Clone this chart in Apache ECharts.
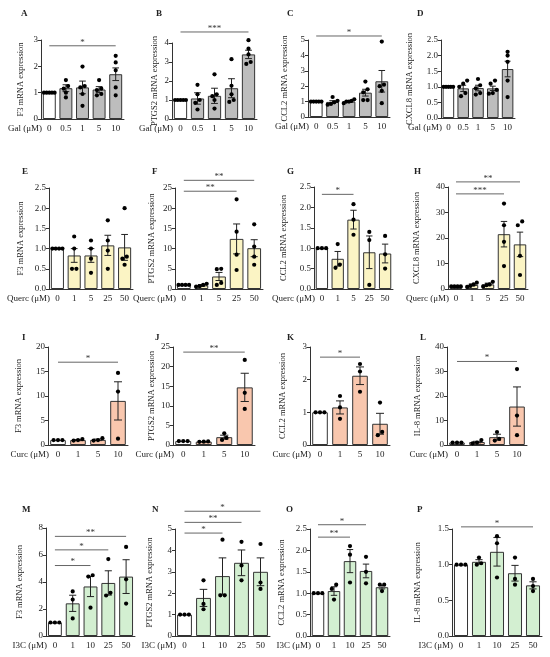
<!DOCTYPE html>
<html lang="en">
<head>
<meta charset="UTF-8">
<title>mRNA expression panels</title>
<style>
    html, body { margin: 0; padding: 0; background: #fff; }
    #main { width: 550px; height: 657px; }
</style>
</head>
<body>
<div id="main"></div>
<script src="https://cdn.jsdelivr.net/npm/echarts@6/dist/echarts.min.js"></script>
<script>
// doses (x categories)
var doseGal = ['0', '0.5', '1', '5', '10'];
var doseQuerc = ['0', '1', '5', '25', '50'];
var doseCurc = ['0', '1', '5', '10'];
var doseI3C = ['0', '1', '10', '25', '50'];

// y axis ranges [min, max, interval]
var yA = [0, 3, 1], yB = [0, 4, 1], yC = [0, 5, 1], yD = [0, 2.5, 0.5];
var yE = [0, 2.5, 0.5], yF = [0, 25, 5], yG = [0, 2.5, 0.5], yH = [0, 40, 10];
var yI = [0, 20, 5], yJ = [0, 25, 5], yK = [0, 3, 1], yL = [0, 40, 10];
var yM = [0, 8, 2], yN = [0, 5, 1], yO = [0, 2.5, 0.5], yP = [0, 1.5, 0.5];

var yTitles = ['F3', 'PTGS2', 'CCL2', 'CXCL8', 'F3', 'PTGS2', 'CCL2', 'CXCL8',
    'F3', 'PTGS2', 'CCL2', 'IL-8', 'F3', 'PTGS2', 'CCL2', 'IL-8'];

// means, SEM, replicate points, significance [from, to, y, label]
var meanA = [1.0, 1.17, 1.2, 1.12, 1.7];
var semA = [0, 0.13, 0.24, 0.11, 0.24];
var ptsA = [[1, 1, 1, 1, 1], [1.48, 1.25, 1.15, 1.0, 0.82], [1.99, 1.25, 1.2, 0.95, 0.5], [1.48, 1.15, 1.1, 0.95, 0.9], [2.4, 2.15, 1.85, 1.2, 0.9]];
var sigA = [[0, 4, 2.78, '*']];

var meanB = [1.0, 1.08, 1.22, 1.62, 3.4];
var semB = [0, 0.3, 0.4, 0.5, 0.22];
var ptsB = [[1, 1, 1, 1, 1], [1.8, 1.3, 1.0, 0.85, 0.5], [2.35, 1.3, 1.2, 1.0, 0.55], [3.15, 1.75, 1.3, 1.0, 0.9], [4.15, 3.7, 3.4, 3.0, 2.9]];
var sigB = [[0, 4, 4.58, '***']];

var meanC = [1.0, 0.98, 1.0, 1.58, 2.32];
var semC = [0, 0.08, 0.05, 0.22, 0.7];
var ptsC = [[1, 1, 1, 1, 1], [1.3, 1.05, 0.95, 0.85, 0.8], [1.15, 1.05, 1.0, 1.0, 0.9], [2.3, 1.8, 1.6, 1.1, 1.1], [4.9, 2.1, 2.0, 1.7, 0.9]];
var sigC = [[0, 4, 5.26, '*']];

var meanD = [1.0, 0.95, 0.96, 0.95, 1.57];
var semD = [0, 0.1, 0.09, 0.07, 0.25];
var ptsD = [[1, 1, 1, 1, 1], [1.2, 1.1, 1.0, 0.8, 0.7], [1.25, 1.05, 0.95, 0.8, 0.75], [1.2, 1.1, 0.9, 0.8, 0.78], [2.12, 2.0, 1.8, 1.2, 0.67]];
var sigD = [];

var meanE = [1.0, 0.83, 0.83, 1.08, 1.03];
var semE = [0, 0.17, 0.17, 0.25, 0.32];
var ptsE = [[1, 1, 1, 1], [1.3, 1.0, 0.5, 0.5], [1.2, 1.0, 0.75, 0.4], [1.7, 1.2, 0.95, 0.5], [2.0, 0.8, 0.75, 0.6]];
var sigE = [];

var meanF = [1.0, 0.9, 3.1, 12.4, 10.1];
var semF = [0, 0.2, 1.0, 3.7, 2.1];
var ptsF = [[1, 1, 1, 1], [1.3, 1.0, 0.7, 0.6], [5.0, 4.9, 1.5, 1.0], [22.2, 14.2, 8.5, 4.7], [16.0, 10.5, 8.0, 6.0]];
var sigF = [[0, 3, 24.2, '**'], [0, 4, 26.9, '**']];

var meanG = [1.0, 0.74, 1.7, 0.9, 0.87];
var semG = [0, 0.18, 0.23, 0.4, 0.23];
var ptsG = [[1, 1, 1], [1.1, 0.6, 0.52], [2.08, 1.7, 1.33], [1.4, 1.2, 0.1], [1.3, 0.85, 0.5]];
var sigG = [[0, 2, 2.32, '*']];

var meanH = [1.0, 1.6, 1.8, 21.5, 17.5];
var semH = [0, 0.4, 0.5, 5.0, 4.8];
var ptsH = [[1, 1, 1, 1], [2.5, 1.8, 1.2, 0.8], [2.8, 1.8, 1.5, 1.0], [33.5, 25.0, 18.5, 9.0], [26.5, 25.0, 13.0, 5.5]];
var sigH = [[0, 3, 37.3, '***'], [0, 4, 42, '**']];

var meanI = [1.0, 1.0, 1.05, 9.0];
var semI = [0, 0.1, 0.15, 3.9];
var ptsI = [[1, 1, 1], [1.2, 1.0, 0.9], [1.4, 1.0, 0.9], [14.7, 10.9, 1.3]];
var sigI = [[0, 3, 16.9, '*']];

var meanJ = [1.0, 0.85, 2.0, 14.7];
var semJ = [0, 0.05, 0.5, 3.6];
var ptsJ = [[1, 1, 1], [0.9, 0.85, 0.8], [3.0, 1.8, 1.3], [21.7, 13.3, 9.2]];
var sigJ = [[0, 3, 23.7, '**']];

var meanK = [1.0, 1.15, 2.12, 0.65];
var semK = [0, 0.2, 0.27, 0.32];
var ptsK = [[1, 1, 1], [1.5, 1.15, 0.8], [2.48, 2.25, 1.63], [1.3, 0.4, 0.3]];
var sigK = [[0, 2, 2.69, '*']];

var meanL = [1.0, 1.2, 3.2, 15.7];
var semL = [0, 0.3, 1.2, 8.0];
var ptsL = [[1, 1, 1], [2.0, 1.0, 0.7], [5.3, 2.5, 1.8], [31.0, 12.0, 4.0]];
var sigL = [[0, 3, 34.1, '*']];

var meanM = [1.0, 2.42, 3.67, 3.93, 4.4];
var semM = [0, 0.6, 0.75, 0.9, 1.25];
var ptsM = [[1, 1, 1], [3.3, 2.7, 1.3], [4.5, 4.4, 2.1], [5.7, 3.2, 3.0], [6.6, 4.2, 2.4]];
var sigM = [[0, 2, 5.22, '*'], [0, 3, 6.38, '*'], [0, 4, 7.38, '**']];

var meanN = [1.0, 1.78, 2.8, 3.42, 3.0];
var semN = [0, 0.4, 0.85, 0.6, 0.65];
var ptsN = [[1, 1, 1], [2.6, 1.5, 1.25], [4.5, 1.9, 1.9], [4.4, 3.3, 2.6], [4.3, 2.5, 2.2]];
var sigN = [[0, 2, 4.81, '*'], [0, 3, 5.31, '**'], [0, 4, 5.83, '*']];

var meanO = [1.0, 1.05, 1.75, 1.52, 1.14];
var semO = [0, 0.1, 0.27, 0.16, 0.04];
var ptsO = [[1, 1, 1], [1.2, 1.1, 0.85], [2.1, 1.9, 1.25], [1.85, 1.5, 1.23], [1.2, 1.2, 1.05]];
var sigO = [[0, 2, 2.31, '**'], [0, 3, 2.6, '*']];

var meanP = [1.0, 1.04, 1.18, 0.88, 0.71];
var semP = [0, 0.03, 0.2, 0.11, 0.05];
var ptsP = [[1, 1, 1], [1.1, 1.02, 1.0], [1.4, 1.3, 0.82], [1.1, 0.8, 0.72], [0.8, 0.7, 0.63]];
var sigP = [[0, 4, 1.53, '*']];

var FONT = "'Liberation Serif', 'DejaVu Serif', serif";
var INK = '#222';
var GRAY = '#bdbdbd', YELLOW = '#fbf4c4', ORANGE = '#f9c7ae', GREEN = '#d3efd1';

// panel layout: box = [left, top, width, height], letter = [x, y], gap = y name gap
var panels = [
    {id: 'A', dose: doseGal, drug: 'Gal', mean: meanA, sem: semA, pts: ptsA, sig: sigA, y: yA, fill: GRAY, box: [41, 40, 83, 79], letter: [16, 4], gap: 16},
    {id: 'B', dose: doseGal, drug: 'Gal', mean: meanB, sem: semB, pts: ptsB, sig: sigB, y: yB, fill: GRAY, box: [172, 43, 85, 76], letter: [151, 4], gap: 13},
    {id: 'C', dose: doseGal, drug: 'Gal', mean: meanC, sem: semC, pts: ptsC, sig: sigC, y: yC, fill: GRAY, box: [308, 40, 82, 77], letter: [282, 4], gap: 19},
    {id: 'D', dose: doseGal, drug: 'Gal', mean: meanD, sem: semD, pts: ptsD, sig: sigD, y: yD, fill: GRAY, box: [441, 40, 74, 78], letter: [412, 4], gap: 27},
    {id: 'E', dose: doseQuerc, drug: 'Querc', mean: meanE, sem: semE, pts: ptsE, sig: sigE, y: yE, fill: YELLOW, box: [49, 188, 84, 101], letter: [17, 162], gap: 24},
    {id: 'F', dose: doseQuerc, drug: 'Querc', mean: meanF, sem: semF, pts: ptsF, sig: sigF, y: yF, fill: YELLOW, box: [175, 188, 88, 101], letter: [147, 162], gap: 19},
    {id: 'G', dose: doseQuerc, drug: 'Querc', mean: meanG, sem: semG, pts: ptsG, sig: sigG, y: yG, fill: YELLOW, box: [314, 187, 79, 102], letter: [282, 162], gap: 26},
    {id: 'H', dose: doseQuerc, drug: 'Querc', mean: meanH, sem: semH, pts: ptsH, sig: sigH, y: yH, fill: YELLOW, box: [448, 187, 80, 102], letter: [409, 162], gap: 27},
    {id: 'I', dose: doseCurc, drug: 'Curc', mean: meanI, sem: semI, pts: ptsI, sig: sigI, y: yI, fill: ORANGE, box: [48, 347, 80, 98], letter: [17, 328], gap: 25},
    {id: 'J', dose: doseCurc, drug: 'Curc', mean: meanJ, sem: semJ, pts: ptsJ, sig: sigJ, y: yJ, fill: ORANGE, box: [173, 347, 82, 98], letter: [150, 328], gap: 17},
    {id: 'K', dose: doseCurc, drug: 'Curc', mean: meanK, sem: semK, pts: ptsK, sig: sigK, y: yK, fill: ORANGE, box: [310, 347, 80, 98], letter: [282, 328], gap: 23},
    {id: 'L', dose: doseCurc, drug: 'Curc', mean: meanL, sem: semL, pts: ptsL, sig: sigL, y: yL, fill: ORANGE, box: [447, 347, 80, 98], letter: [415, 328], gap: 25},
    {id: 'M', dose: doseI3C, drug: 'I3C', mean: meanM, sem: semM, pts: ptsM, sig: sigM, y: yM, fill: GREEN, box: [46, 528, 89, 108], letter: [17, 500], gap: 22},
    {id: 'N', dose: doseI3C, drug: 'I3C', mean: meanN, sem: semN, pts: ptsN, sig: sigN, y: yN, fill: GREEN, box: [175, 529, 95, 107], letter: [147, 500], gap: 21},
    {id: 'O', dose: doseI3C, drug: 'I3C', mean: meanO, sem: semO, pts: ptsO, sig: sigO, y: yO, fill: GREEN, box: [310, 529, 80, 107], letter: [281, 500], gap: 24},
    {id: 'P', dose: doseI3C, drug: 'I3C', mean: meanP, sem: semP, pts: ptsP, sig: sigP, y: yP, fill: GREEN, box: [452, 529, 90, 107], letter: [412, 500], gap: 30}
];

// spread near-equal replicate points sideways (simple beeswarm)
function swarm(pts, yMax) {
    var out = [];
    var thr = yMax * 0.045;
    pts.forEach(function (col, ci) {
        var order = col.map(function (v, i) { return i; }).sort(function (a, b) { return col[a] - col[b]; });
        var groups = [];
        order.forEach(function (i) {
            var g = groups[groups.length - 1];
            if (g && Math.abs(col[i] - col[g[g.length - 1]]) < thr) g.push(i);
            else groups.push([i]);
        });
        groups.forEach(function (g) {
            g.forEach(function (i, k) {
                out.push([ci, col[i], k - (g.length - 1) / 2, g.length]);
            });
        });
    });
    return out;
}

function renderErr(params, api) {
    var x = api.value(0), m = api.value(1), e = api.value(2);
    if (!e) return null;
    var top = api.coord([x, m + e]);
    var bot = api.coord([x, m - e]);
    var w = api.size([1, 0])[0] * 0.2;
    var st = {stroke: INK, lineWidth: 1};
    return {
        type: 'group',
        children: [
            {type: 'line', shape: {x1: top[0], y1: top[1], x2: bot[0], y2: bot[1]}, style: st},
            {type: 'line', shape: {x1: top[0] - w, y1: top[1], x2: top[0] + w, y2: top[1]}, style: st},
            {type: 'line', shape: {x1: bot[0] - w, y1: bot[1], x2: bot[0] + w, y2: bot[1]}, style: st}
        ]
    };
}

function renderPts(params, api) {
    var p = api.coord([api.value(0), api.value(1)]);
    var band = api.size([1, 0])[0];
    var n = api.value(3);
    var step = Math.min(4.4, band * 0.8 / n);
    return {
        type: 'circle',
        shape: {cx: p[0] + api.value(2) * step, cy: p[1], r: 2.1},
        style: {fill: '#000'}
    };
}

function makeSigRender(sig) {
    return function (params, api) {
        var a = api.coord([api.value(0), api.value(2)]);
        var b = api.coord([api.value(1), api.value(2)]);
        return {
            type: 'group',
            children: [
                {type: 'line', shape: {x1: a[0], y1: a[1], x2: b[0], y2: b[1]}, style: {stroke: '#666', lineWidth: 1}},
                {type: 'text', style: {x: (a[0] + b[0]) / 2, y: a[1] + 1, text: sig[params.dataIndex][3], align: 'center', verticalAlign: 'bottom', fontSize: 9, fontFamily: FONT, fill: '#333'}}
            ]
        };
    };
}

var grids = [], xAxes = [], yAxes = [], series = [], titles = [], texts = [];

panels.forEach(function (p, i) {
    grids.push({left: p.box[0], top: p.box[1], width: p.box[2], height: p.box[3]});
    xAxes.push({
        type: 'category', gridIndex: i, data: p.dose,
        axisLine: {lineStyle: {color: '#333', width: 1}},
        axisTick: {alignWithLabel: true, length: 3, lineStyle: {color: '#333'}},
        axisLabel: {interval: 0, fontSize: 9, fontFamily: FONT, color: INK, margin: 5}
    });
    var dec = p.y[2] < 1;
    yAxes.push({
        type: 'value', gridIndex: i, min: p.y[0], max: p.y[1], interval: p.y[2],
        name: yTitles[i] + ' mRNA expression', nameLocation: 'middle', nameRotate: 90, nameGap: p.gap,
        nameTextStyle: {fontSize: 8.5, fontFamily: FONT, color: INK},
        axisLine: {show: true, lineStyle: {color: '#333', width: 1}},
        axisTick: {show: true, length: 3, lineStyle: {color: '#333'}},
        splitLine: {show: false},
        axisLabel: {fontSize: 9, fontFamily: FONT, color: INK, margin: 3,
            formatter: function (v) { return dec ? v.toFixed(1) : String(v); }}
    });
    series.push({
        type: 'bar', xAxisIndex: i, yAxisIndex: i, barWidth: '78%', z: 2,
        data: p.mean.map(function (v, k) {
            return {value: v, itemStyle: {color: k === 0 ? '#fff' : p.fill}};
        }),
        itemStyle: {borderColor: '#333', borderWidth: 1},
        emphasis: {disabled: true}
    });
    series.push({
        type: 'custom', xAxisIndex: i, yAxisIndex: i, z: 3, renderItem: renderErr,
        data: p.mean.map(function (v, k) { return [k, v, p.sem[k]]; })
    });
    series.push({
        type: 'custom', xAxisIndex: i, yAxisIndex: i, z: 4, renderItem: renderPts,
        data: swarm(p.pts, p.y[1])
    });
    if (p.sig.length) {
        series.push({
            type: 'custom', xAxisIndex: i, yAxisIndex: i, z: 4, clip: false,
            renderItem: makeSigRender(p.sig),
            data: p.sig.map(function (s) { return [s[0], s[1], s[2]]; })
        });
    }
    titles.push({text: p.id, left: p.letter[0], top: p.letter[1],
        textStyle: {fontSize: 9, fontWeight: 'bold', fontFamily: FONT, color: INK}});
    texts.push({type: 'text', x: p.box[0] + 1, y: p.box[1] + p.box[3] + 10,
        style: {text: p.drug + ' (μM)', align: 'right', verticalAlign: 'middle', fontSize: 9, fontFamily: FONT, fill: INK}});
});

var myChart = echarts.init(document.getElementById('main'), null, {renderer: 'canvas'});
myChart.setOption({
    backgroundColor: '#fff',
    animation: false,
    title: titles,
    grid: grids,
    xAxis: xAxes,
    yAxis: yAxes,
    series: series,
    graphic: texts
});
</script>
</body>
</html>
